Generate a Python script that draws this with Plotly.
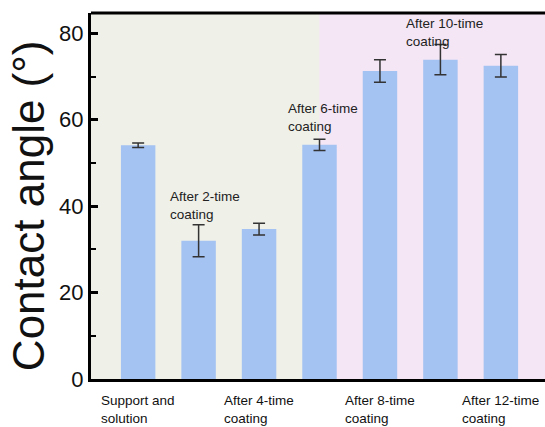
import plotly.graph_objects as go

categories = [0, 1, 2, 3, 4, 5, 6]
values = [54.1, 32.0, 34.7, 54.2, 71.3, 73.9, 72.5]
errors = [0.5, 3.7, 1.35, 1.3, 2.6, 3.5, 2.6]
bottom_labels = {0: "Support and<br>solution", 2: "After 4-time<br>coating",
                 4: "After 8-time<br>coating", 6: "After 12-time<br>coating"}
inner_labels = [(0.5, 35.8, "After 2-time<br>coating"), (2.45, 56.2, "After 6-time<br>coating"),
                (4.39, 75.9, "After 10-time<br>coating")]
yticks = [0, 20, 40, 60, 80]

FONT = "Arial, Liberation Sans, sans-serif"

fig = go.Figure()
fig.add_trace(go.Bar(
    x=categories, y=values,
    marker=dict(color="#a4c2f2", line=dict(width=0)),
    error_y=dict(type="data", array=errors, color="#333333", thickness=1.5, width=6),
    width=0.57,
))

fig.add_shape(type="rect", xref="x", yref="paper", x0=-0.78, x1=3, y0=0, y1=1,
              fillcolor="#eff0e8", line=dict(width=0), layer="below")
fig.add_shape(type="rect", xref="x", yref="paper", x0=3, x1=6.73, y0=0, y1=1,
              fillcolor="#f4e6f5", line=dict(width=0), layer="below")
fig.add_shape(type="line", xref="paper", yref="paper", x0=0, x1=1, y0=1, y1=1,
              line=dict(color="black", width=3), layer="above")

for cx, txt in bottom_labels.items():
    fig.add_annotation(x=cx, xref="x", y=-0.033, yref="paper", text=txt, showarrow=False,
                       xanchor="center", yanchor="top", align="left",
                       font=dict(family=FONT, size=13.5, color="#111111"))

for cx, cy, txt in inner_labels:
    fig.add_annotation(x=cx, xref="x", y=cy, yref="y", text=txt, showarrow=False,
                       xanchor="left", yanchor="bottom", align="left",
                       font=dict(family=FONT, size=13.5, color="#222222"))

fig.add_annotation(x=-0.1388, xref="paper", y=0.475, yref="paper", text="Contact angle (°)",
                   textangle=-90, showarrow=False, xanchor="center", yanchor="middle",
                   font=dict(family=FONT, size=44, color="#111111"))

fig.update_layout(
    width=545, height=427,
    margin=dict(l=91, r=0, t=13, b=48),
    paper_bgcolor="white",
    plot_bgcolor="#f4e6f5",
    showlegend=False,
    font=dict(family=FONT, color="#111111"),
    xaxis=dict(range=[-0.78, 6.73], showticklabels=False, ticks="", showgrid=False,
               zeroline=False, showline=True, linecolor="black", linewidth=3),
    yaxis=dict(range=[0, 84.7], tickvals=yticks, ticks="inside", ticklen=7, tickwidth=3,
               tickcolor="black", showgrid=False, zeroline=False, showline=True,
               linecolor="black", linewidth=3, tickfont=dict(family=FONT, size=22, color="#111111"),
               minor=dict(tickvals=[10, 30, 50, 70], ticks="inside", ticklen=5, tickwidth=2,
                          tickcolor="black")),
)

fig.write_html("out.html")
